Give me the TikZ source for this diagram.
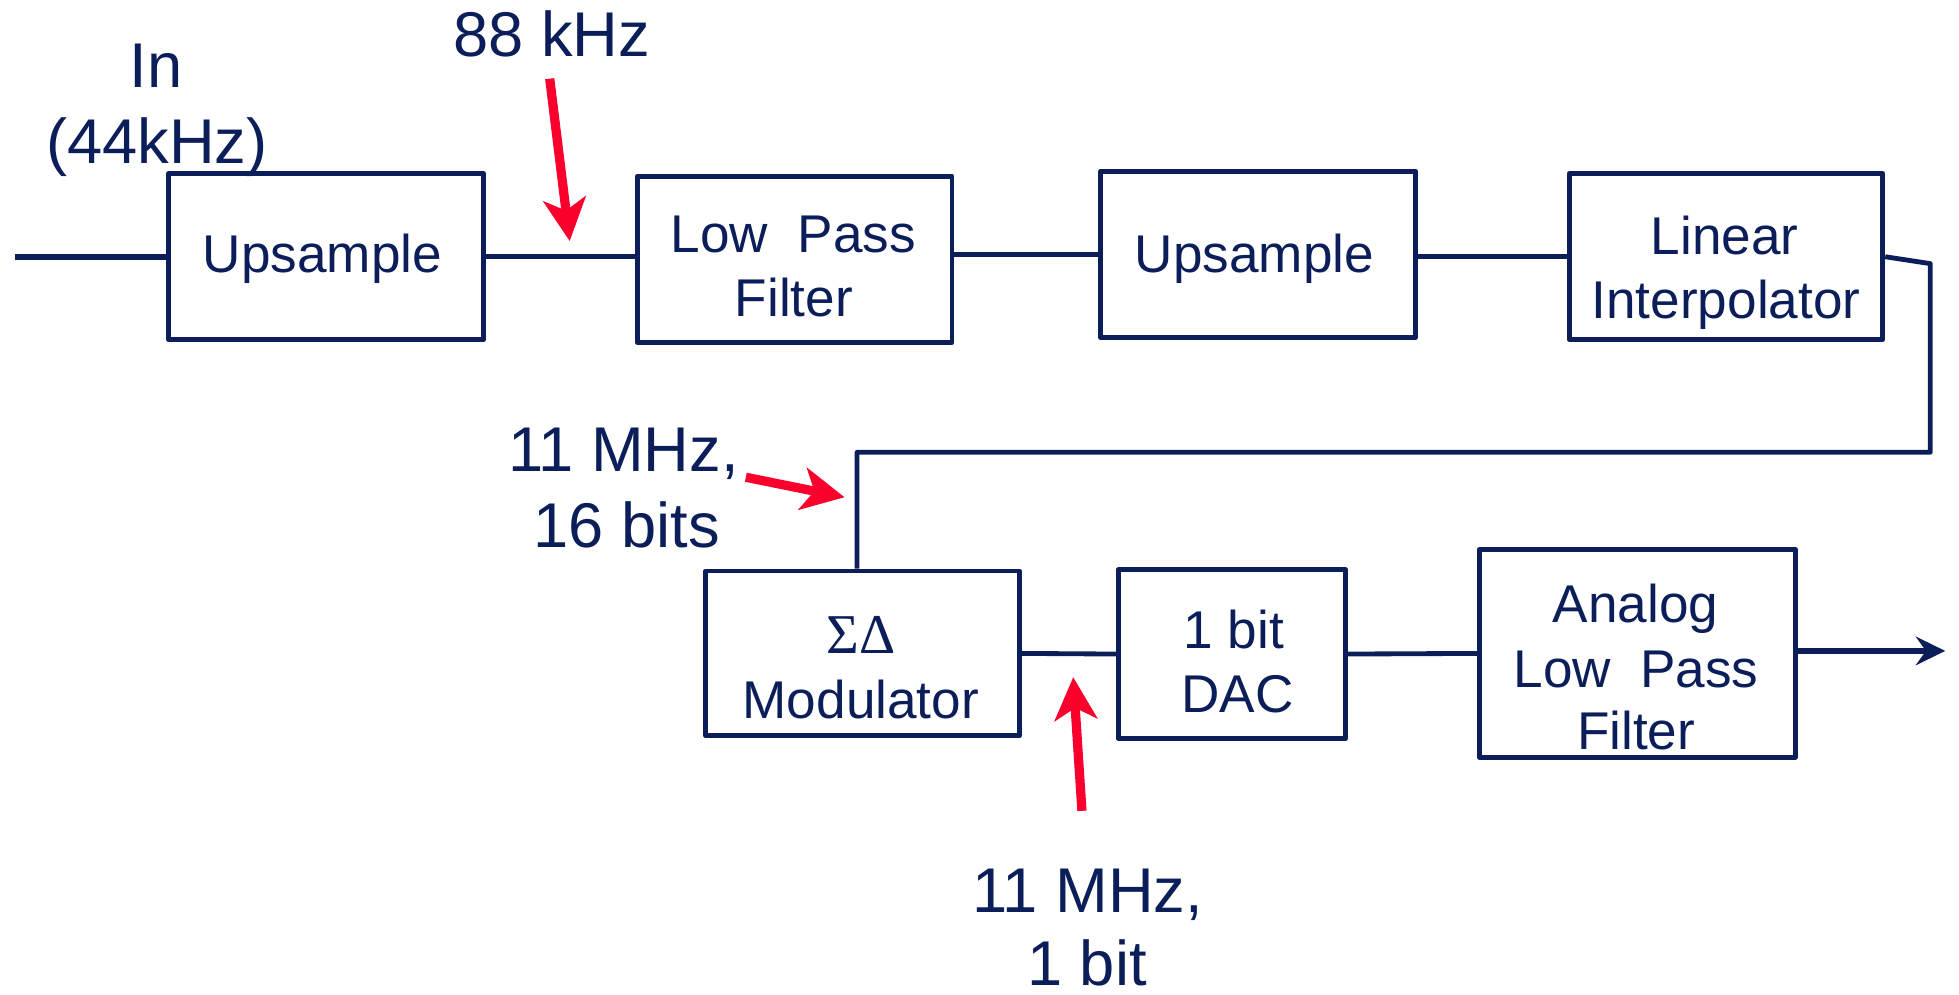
\documentclass[tikz,border=0pt]{standalone}
\usepackage{fontspec}
\setmainfont{Liberation Sans}
\newfontfamily\greekserif{Liberation Serif}
\usetikzlibrary{arrows.meta}
\definecolor{navy}{RGB}{11,30,90}
\definecolor{alarm}{RGB}{250,0,45}
\begin{document}
\begin{tikzpicture}[x=0.1mm,y=-0.1mm,
  blk/.style={draw=navy,line width=1.1pt,inner sep=0pt,line join=round},
  btxt/.style={text=navy,font=\fontsize{12.1}{14.5}\selectfont,anchor=base,inner sep=0pt},
  ltxt/.style={text=navy,font=\fontsize{14.4}{17.4}\selectfont,anchor=base,inner sep=0pt},
  wire/.style={draw=navy,line width=1.1pt,line join=round},
  thickwire/.style={draw=navy,line width=1.35pt},
  redarr/.style={draw=alarm,line width=2.1pt,-{Stealth[length=9.7pt,width=9.7pt,inset=2.7pt]}},
]
\useasboundingbox (0,0) rectangle (1568,796);

% blocks
\node[blk,minimum width=25.2mm,minimum height=13.3mm] (ups1) at (261,205.5) {};
\node[blk,minimum width=25.2mm,minimum height=13.3mm] (lpf) at (636,207.5) {};
\node[blk,minimum width=25.2mm,minimum height=13.3mm] (ups2) at (1007,203.5) {};
\node[blk,minimum width=25.1mm,minimum height=13.3mm] (li) at (1381.5,205.5) {};
\node[blk,minimum width=25.1mm,minimum height=13.2mm] (mod) at (690.5,523) {};
\node[blk,minimum width=18.2mm,minimum height=13.5mm] (dac) at (986,523.5) {};
\node[blk,minimum width=25.3mm,minimum height=16.6mm] (alpf) at (1310.5,523) {};

% block texts
\node[btxt] (ups1t) at (258,218) {Upsample};
\node[btxt] (lpft1) at (635,202) {Low\ \ Pass};
\node[btxt] (lpft2) at (635.5,253) {Filter};
\node[btxt] (ups2t) at (1004,218) {Upsample};
\node[btxt] (lit1) at (1380.5,204) {Linear};
\node[btxt] (lit2) at (1381.5,255) {Interpolator};
\node[btxt] (modt1) at (689,523) {\greekserif\fontsize{12.8}{14.5}\selectfont ΣΔ};
\node[btxt] (modt2) at (689,575) {Modulator};
\node[btxt] (dact1) at (987.5,519) {1 bit};
\node[btxt] (dact2) at (990.5,570) {DAC};
\node[btxt] (alpft1) at (1309,498) {Analog};
\node[btxt] (alpft2) at (1309.5,550) {Low\ \ Pass};
\node[btxt] (alpft3) at (1309.5,600) {Filter};

% labels
\node[ltxt] (inl1) at (125,70) {In};
\node[ltxt] (inl2) at (125.5,131) {(44kHz)};
\node[ltxt] (l88) at (441.5,45) {88 kHz};
\node[ltxt] (l16a) at (499,377) {11 MHz,};
\node[ltxt] (l16b) at (501.5,438) {16 bits};
\node[ltxt] (l1a) at (870.5,730) {11 MHz,};
\node[ltxt] (l1b) at (870,789) {1 bit};

% coordinates
\coordinate (inp) at (12,205.5);
\coordinate (r1) at (1545,211);
\coordinate (r2) at (1545,362);
\coordinate (r3) at (686,362);
\coordinate (outp) at (1557,521);
\coordinate (a1s) at (440,63);
\coordinate (a1e) at (456,193);
\coordinate (a2s) at (597,382);
\coordinate (a2e) at (676,398);
\coordinate (a3s) at (866,649);
\coordinate (a3e) at (859,542);

% connectors
\draw[thickwire] (inp) -- (ups1.west);
\draw[wire] (ups1.east) -- (lpf.west |- ups1.east);
\draw[wire] (lpf.east |- ups2.west) -- (ups2.west);
\draw[wire] (ups2.east |- li.west) -- (li.west);
\draw[wire] (li.east) -- (r1) -- (r2) -- (r3) -- (r3 |- mod.north);
\draw[wire] (mod.east) -- (dac.west);
\draw[wire] (dac.east) -- (alpf.west);
\draw[thickwire,-{Stealth[length=6.7pt,width=6.5pt,inset=2.3pt]}] (alpf.east |- outp) -- (outp);

% red pointers
\draw[redarr] (a1s) -- (a1e);
\draw[redarr] (a2s) -- (a2e);
\draw[redarr] (a3s) -- (a3e);
\end{tikzpicture}
\end{document}
